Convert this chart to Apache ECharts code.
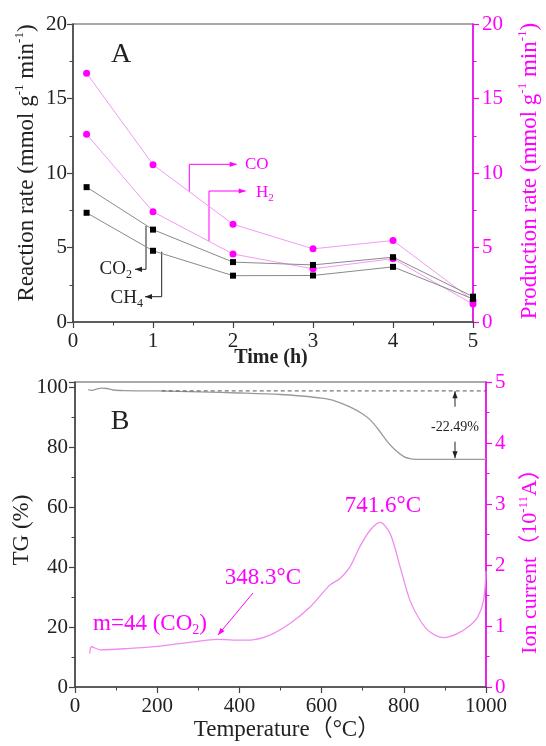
<!DOCTYPE html>
<html>
<head>
  <meta charset="utf-8">
  <title>Reaction rate / TG-MS</title>
  <script src="https://cdn.jsdelivr.net/npm/echarts@6/dist/echarts.min.js"></script>
  <style>
    body { margin: 0; padding: 0; background: #fff; }
    #main { width: 546px; height: 746px; }
  </style>
</head>
<body>
  <div id="main"></div>
  <script type="text/javascript">
    // panel A: rates vs time
    var timeH = [0.17, 1, 2, 3, 4, 5];
    var coRate = [16.7, 10.56, 6.56, 4.91, 5.47, 1.45];
    var h2Rate = [12.6, 7.4, 4.56, 3.57, 4.25, 1.2];
    var co2Rate = [9.05, 6.2, 4.02, 3.83, 4.35, 1.7];
    var ch4Rate = [7.33, 4.78, 3.11, 3.12, 3.70, 1.55];

    // panel B: TG curve and m=44 ion current
    var tgTemp = [32, 40, 50, 65, 78, 92, 120, 200, 300, 400, 500, 550, 600, 630, 670, 700, 720, 740, 760, 780, 800, 815, 830, 900, 1000];
    var tgVal = [99.1, 98.9, 99.2, 99.6, 99.5, 99.0, 98.8, 98.7, 98.4, 98.0, 97.5, 97.0, 96.3, 95.5, 93.3, 91.0, 88.8, 85.5, 81.8, 78.9, 76.8, 76.1, 75.9, 75.9, 75.9];
    var refTemp = [211, 1000];
    var refVal = [98.7, 98.7];
    var ionTemp = [36, 40, 61, 126, 207, 288, 345, 385, 426, 474, 523, 572, 620, 645, 669, 693, 718, 742, 767, 791, 815, 840, 864, 896, 929, 961, 980, 994, 1000];
    var ionVal = [0.55, 0.66, 0.61, 0.63, 0.67, 0.74, 0.78, 0.77, 0.77, 0.85, 1.04, 1.31, 1.67, 1.78, 1.97, 2.30, 2.57, 2.70, 2.51, 1.97, 1.42, 1.09, 0.90, 0.81, 0.87, 1.01, 1.15, 1.42, 1.9];

    var FONT = '"Liberation Serif", "Noto Sans CJK SC", serif';
    var PINK = '#ff00ff';
    var INK = '#222';

    function pairs(xs, ys) {
      var out = [];
      for (var i = 0; i < xs.length; i++) out.push([xs[i], ys[i]]);
      return out;
    }

    function axisStyle(color, labelMargin) {
      var lc = color === INK ? '#444' : color;
      return {
        axisLine: { show: true, onZero: false, lineStyle: { color: lc, width: 1.5 } },
        axisTick: { show: true, length: 6, lineStyle: { color: lc, width: 1.2 } },
        minorTick: { show: true, splitNumber: 2, length: 3.5, lineStyle: { color: lc, width: 1 } },
        splitLine: { show: false },
        axisLabel: {
          fontFamily: FONT, fontSize: 21, color: color, margin: labelMargin,
          formatter: function (v) { return String(v); }
        }
      };
    }

    function mk(base, extra) {
      for (var k in extra) base[k] = extra[k];
      return base;
    }

    function arrow(points, color) {
      var n = points.length;
      var a = points[n - 2], b = points[n - 1];
      var ang = Math.atan2(b[1] - a[1], b[0] - a[0]);
      var len = 7, hw = 2.6;
      var c = Math.cos(ang), s = Math.sin(ang);
      return [
        { type: 'polyline', silent: true, shape: { points: points }, style: { stroke: color, lineWidth: 1, fill: null } },
        { type: 'polygon', silent: true, shape: { points: [b, [b[0] - len * c + hw * s, b[1] - len * s - hw * c], [b[0] - len * c - hw * s, b[1] - len * s + hw * c]] }, style: { fill: color } }
      ];
    }

    function richStyles(size, color) {
      return {
        n: { fontFamily: FONT, fontSize: size, lineHeight: size + 4, fill: color, color: color },
        sup: { fontFamily: FONT, fontSize: Math.round(size * 0.58), lineHeight: Math.round(size * 0.6), verticalAlign: 'top', fill: color, color: color },
        sub: { fontFamily: FONT, fontSize: Math.round(size * 0.62), lineHeight: Math.round(size * 0.6), verticalAlign: 'bottom', fill: color, color: color }
      };
    }

    function txt(x, y, text, size, color, align, rot, bold) {
      return {
        type: 'text', silent: true, x: x, y: y, rotation: rot || 0,
        style: {
          text: text, x: 0, y: 0, rich: richStyles(size, color),
          fill: color, font: (bold ? 'bold ' : '') + size + 'px ' + FONT,
          align: align || 'center', verticalAlign: 'middle',
          textAlign: align || 'center', textVerticalAlign: 'middle'
        }
      };
    }

    var graphics = [].concat(
      [
        txt(121, 55, 'A', 28, INK),
        txt(120, 422, 'B', 28, INK),
        txt(27, 163, '{n|Reaction rate (mmol g}{sup|-1}{n| min}{sup|-1}{n|)}', 23, INK, 'center', Math.PI / 2),
        txt(530, 171, '{n|Production rate (mmol g}{sup|-1}{n| min}{sup|-1}{n|)}', 23, PINK, 'center', Math.PI / 2),
        txt(271, 358, 'Time (h)', 20, INK, 'center', 0, true),
        txt(22, 530, '{n|TG (%)}', 23, INK, 'center', Math.PI / 2),
        txt(530, 556, '{n|Ion current（10}{sup|-11}{n|A）}', 22, PINK, 'center', Math.PI / 2),
        txt(287, 730, '{n|Temperature（°C）}', 23, INK, 'center'),
        txt(245, 165, '{n|CO}', 17, PINK, 'left'),
        txt(256, 193, '{n|H}{sub|2}', 17, PINK, 'left'),
        txt(132, 269, '{n|CO}{sub|2}', 19, INK, 'right'),
        txt(143, 298, '{n|CH}{sub|4}', 19, INK, 'right'),
        txt(455, 427, '-22.49%', 14, INK, 'center'),
        txt(383, 506, '{n|741.6°C}', 23, PINK, 'center'),
        txt(263, 578, '{n|348.3°C}', 23, PINK, 'center'),
        txt(150, 624, '{n|m=44 (CO}{sub|2}{n|)}', 23, PINK, 'center')
      ],
      arrow([[189.3, 191.7], [189.3, 164.3], [236.7, 164.3]], PINK),
      arrow([[209, 241], [209, 191], [245.7, 191]], PINK),
      arrow([[146, 226], [146, 269.3], [135, 269.3]], INK),
      arrow([[161.7, 251.7], [161.7, 296.7], [145, 296.7]], INK),
      arrow([[455, 406.7], [455, 391.2]], INK),
      arrow([[455, 441.7], [455, 458.2]], INK),
      arrow([[253, 593], [218, 635]], PINK)
    );

    var option = {
      animation: false,
      backgroundColor: '#fff',
      grid: [
        { left: 73, top: 24, width: 400, height: 298, show: true, borderColor: '#555', borderWidth: 1.2 },
        { left: 75, top: 382, width: 411, height: 305, show: true, borderColor: '#555', borderWidth: 1.2 }
      ],
      xAxis: [
        mk({ type: 'value', gridIndex: 0, min: 0, max: 5, interval: 1 }, axisStyle(INK, 9)),
        mk({ type: 'value', gridIndex: 1, min: 0, max: 1000, interval: 200 }, axisStyle(INK, 9))
      ],
      yAxis: [
        mk({ type: 'value', gridIndex: 0, min: 0, max: 20, interval: 5 }, axisStyle(INK, 6)),
        mk({ type: 'value', gridIndex: 0, min: 0, max: 20, interval: 5, position: 'right' }, axisStyle(PINK, 9)),
        mk({ type: 'value', gridIndex: 1, min: 0, max: 101.67, interval: 20 }, axisStyle(INK, 7)),
        mk({ type: 'value', gridIndex: 1, min: 0, max: 5, interval: 1, position: 'right' }, axisStyle(PINK, 9))
      ],
      graphic: graphics,
      series: [
        {
          name: 'CO', type: 'line', xAxisIndex: 0, yAxisIndex: 1, clip: false,
          data: pairs(timeH, coRate), symbol: 'circle', symbolSize: 7,
          lineStyle: { color: '#f39af3', width: 1 }, itemStyle: { color: PINK }
        },
        {
          name: 'H2', type: 'line', xAxisIndex: 0, yAxisIndex: 1, clip: false,
          data: pairs(timeH, h2Rate), symbol: 'circle', symbolSize: 7,
          lineStyle: { color: '#f39af3', width: 1 }, itemStyle: { color: PINK }
        },
        {
          name: 'CO2', type: 'line', xAxisIndex: 0, yAxisIndex: 0, clip: false,
          data: pairs(timeH, co2Rate), symbol: 'rect', symbolSize: 6,
          lineStyle: { color: '#8a8a8a', width: 1 }, itemStyle: { color: '#000' }
        },
        {
          name: 'CH4', type: 'line', xAxisIndex: 0, yAxisIndex: 0, clip: false,
          data: pairs(timeH, ch4Rate), symbol: 'rect', symbolSize: 6,
          lineStyle: { color: '#8a8a8a', width: 1 }, itemStyle: { color: '#000' }
        },
        {
          name: 'TG', type: 'line', xAxisIndex: 1, yAxisIndex: 2, smooth: 0.3, showSymbol: false,
          data: pairs(tgTemp, tgVal), lineStyle: { color: '#9a9a9a', width: 1.3 }
        },
        {
          name: 'ref', type: 'line', xAxisIndex: 1, yAxisIndex: 2, showSymbol: false,
          data: pairs(refTemp, refVal), lineStyle: { color: '#555', width: 1, type: [4, 3] }
        },
        {
          name: 'm44', type: 'line', xAxisIndex: 1, yAxisIndex: 3, smooth: 0.3, showSymbol: false,
          data: pairs(ionTemp, ionVal), lineStyle: { color: '#f08cf0', width: 1.3 }
        }
      ]
    };

    // hide the extent label at the top of the TG axis
    option.yAxis[2].axisLabel.showMaxLabel = false;
    option.yAxis[2].axisLabel.formatter = function (v) { return v % 20 === 0 ? String(v) : ''; };

    var chart = echarts.init(document.getElementById('main'));
    chart.setOption(option);
  </script>
</body>
</html>
